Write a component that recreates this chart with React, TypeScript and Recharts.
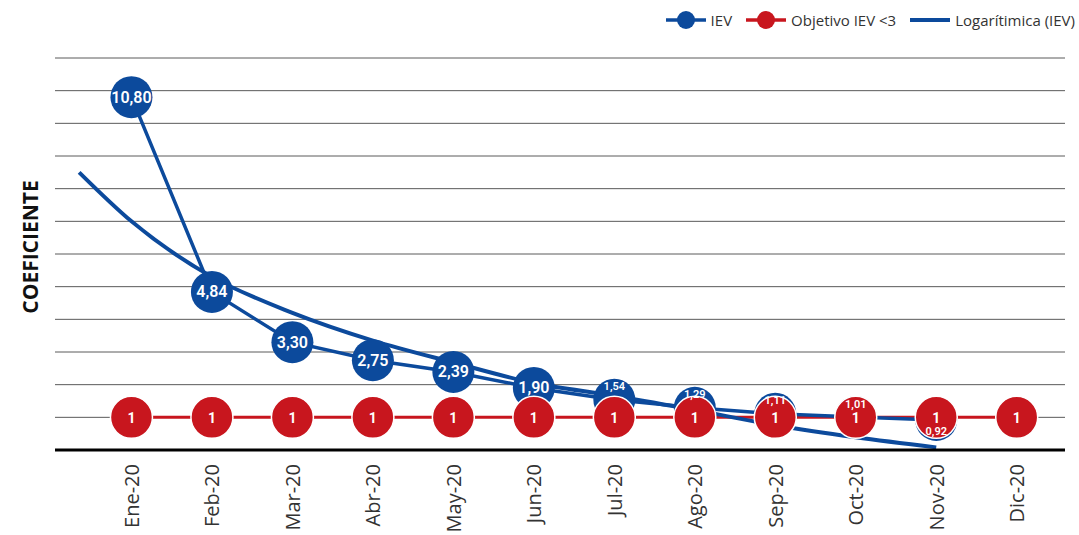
import { LineChart, Line, XAxis, YAxis, CartesianGrid, LabelList } from 'recharts';

const BLUE = '#0c4a9c';
const RED = '#c8161e';

// categorias y series
const months = ['Ene-20', 'Feb-20', 'Mar-20', 'Abr-20', 'May-20', 'Jun-20', 'Jul-20', 'Ago-20', 'Sep-20', 'Oct-20', 'Nov-20', 'Dic-20'];
const iev: (number | null)[] = [10.8, 4.84, 3.3, 2.75, 2.39, 1.9, 1.54, 1.29, 1.11, 1.01, 0.92, null];
const objetivo = [1, 1, 1, 1, 1, 1, 1, 1, 1, 1, 1, 1];

// curva logaritmica (IEV), leida punto a punto
const trendX = [0.35, 1, 2, 3, 4, 5, 6, 7, 8, 9, 10, 11];
const trendY = [8.5, 7.0, 5.3, 4.2, 3.35, 2.68, 2.05, 1.66, 1.22, 0.76, 0.39, 0.08];

const yTicks = [0, 1, 2, 3, 4, 5, 6, 7, 8, 9, 10, 11, 12];

const data = months.map((m, i) => ({ x: i + 1, name: m, iev: iev[i], obj: objetivo[i] }));
const trendData = trendX.map((x, i) => ({ x, trend: trendY[i] }));

const fmt = (v: number) => v.toFixed(2).replace('.', ',');

const MonthTick = (props: any) => {
    const { x, y, payload } = props;
    const ty = y + 6;
    return (
        <text x={x} y={ty} transform={`rotate(-90 ${x} ${ty})`} textAnchor="end" dominantBaseline="central"
            fontSize={20} fill="#333" fontFamily="'Open Sans', sans-serif">
            {months[payload.value - 1]}
        </text>
    );
};

const IevLabel = (props: any) => {
    const { x, y, value } = props;
    if (value == null) return null;
    const small = value < 1.8;
    // las etiquetas pequeñas quedan por encima (o por debajo) del circulo rojo
    const dy = !small ? 0 : value < 1 ? 12 : -13;
    return (
        <text x={x} y={y + dy} textAnchor="middle" dominantBaseline="central" fill="#fff"
            fontSize={small ? 11 : 16} fontWeight={600} fontFamily="Roboto, sans-serif">
            {fmt(value)}
        </text>
    );
};

const ObjLabel = (props: any) => {
    const { x, y, value } = props;
    return (
        <text x={x} y={y + 1} textAnchor="middle" dominantBaseline="central" fill="#fff"
            fontSize={14} fontWeight={700} fontFamily="Roboto, sans-serif">
            {value}
        </text>
    );
};

const YTitle = () => (
    <text x={30} y={247} transform="rotate(-90 30 247)" textAnchor="middle" dominantBaseline="central"
        fontSize={21} fontWeight={700} fill="#111" fontFamily="'Open Sans', sans-serif">
        COEFICIENTE
    </text>
);

const NoTick = () => <g />;

const LegendItem = ({ color, dot, thick, label }: { color: string; dot: boolean; thick?: boolean; label: string }) => (
    <div style={{ display: 'flex', alignItems: 'center', gap: 5 }}>
        <svg width={40} height={20}>
            <line x1={0} y1={10} x2={40} y2={10} stroke={color} strokeWidth={thick ? 4 : 3.5} />
            {dot && <circle cx={20} cy={10} r={9} fill={color} />}
        </svg>
        <span>{label}</span>
    </div>
);

export default function App() {
    return (
        <div style={{ position: 'relative', width: 1079, height: 535, background: '#fff' }}>
            <style>{`body{margin:0}`}</style>
            <LineChart width={1079} height={535} data={data} margin={{ top: 58, right: 14, bottom: 0, left: 0 }}>
                <CartesianGrid vertical={false} stroke="#5a5a5a" strokeWidth={1} />
                <XAxis
                    type="number"
                    dataKey="x"
                    domain={[0.05, 12.6]}
                    ticks={[1, 2, 3, 4, 5, 6, 7, 8, 9, 10, 11, 12]}
                    allowDataOverflow
                    height={85}
                    axisLine={{ stroke: '#000', strokeWidth: 3 }}
                    tickLine={false}
                    tick={<MonthTick />}
                    interval={0}
                />
                <YAxis
                    domain={[0, 12]}
                    ticks={yTicks}
                    interval={0}
                    width={55}
                    tick={<NoTick />}
                    tickLine={false}
                    axisLine={false}
                    label={<YTitle />}
                />
                {/* linea objetivo */}
                <Line dataKey="obj" stroke={RED} strokeWidth={3} dot={false} activeDot={false} isAnimationActive={false} />
                {/* IEV */}
                <Line dataKey="iev" stroke={BLUE} strokeWidth={3.5} dot={{ r: 21, fill: BLUE, strokeWidth: 0 }}
                    activeDot={false} isAnimationActive={false} />
                {/* circulos del objetivo por encima */}
                <Line dataKey="obj" stroke="none" dot={{ r: 21, fill: RED, stroke: '#fff', strokeWidth: 1.5 }}
                    activeDot={false} isAnimationActive={false} />
                {/* logaritmica */}
                <Line data={trendData} dataKey="trend" type="monotone" stroke={BLUE} strokeWidth={4} dot={false}
                    activeDot={false} isAnimationActive={false} />
                {/* etiquetas */}
                <Line dataKey="obj" stroke="none" dot={false} activeDot={false} isAnimationActive={false}>
                    <LabelList dataKey="obj" content={<ObjLabel />} />
                </Line>
                <Line dataKey="iev" stroke="none" dot={false} activeDot={false} isAnimationActive={false}>
                    <LabelList dataKey="iev" content={<IevLabel />} />
                </Line>
            </LineChart>
            <div style={{
                position: 'absolute', top: 10, right: 4, display: 'flex', gap: 14, alignItems: 'center',
                fontFamily: "'Open Sans', sans-serif", fontSize: 15, color: '#333'
            }}>
                <LegendItem color={BLUE} dot label="IEV" />
                <LegendItem color={RED} dot label="Objetivo IEV <3" />
                <LegendItem color={BLUE} dot={false} thick label="Logarítimica (IEV)" />
            </div>
        </div>
    );
}
